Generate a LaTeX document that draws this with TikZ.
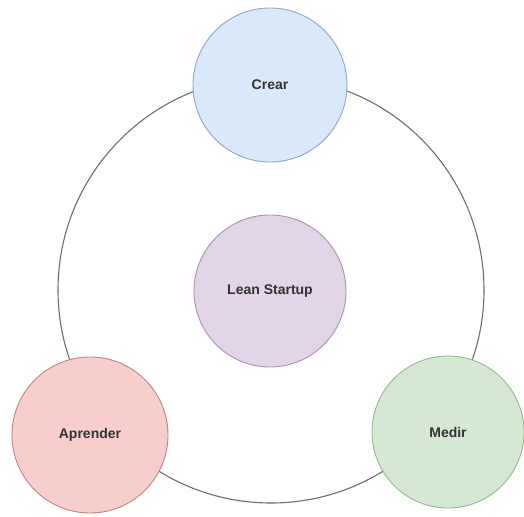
\documentclass[tikz,border=0pt]{standalone}
\usepackage{fontspec}
\setmainfont{Liberation Sans}
\definecolor{blueFill}{HTML}{DAE8FC}
\definecolor{blueLine}{HTML}{8FA6C4}
\definecolor{purpleFill}{HTML}{E1D5E7}
\definecolor{purpleLine}{HTML}{A992B4}
\definecolor{redFill}{HTML}{F8CECC}
\definecolor{redLine}{HTML}{BE8583}
\definecolor{greenFill}{HTML}{D5E8D4}
\definecolor{greenLine}{HTML}{98B88F}
\definecolor{ringLine}{HTML}{6E6E6E}
\definecolor{labelText}{HTML}{333333}
\begin{document}
\begin{tikzpicture}[x=1pt,y=-1pt,
  ring/.style={circle,draw=ringLine,line width=1.1pt,fill=white,minimum size=426pt,inner sep=0pt},
  stage/.style={circle,line width=0.9pt,inner sep=0pt,font=\fontsize{14}{16}\selectfont\bfseries,text=labelText},
  core/.style={stage,minimum size=152pt}]
  \useasboundingbox (0,0) rectangle (524,516);
  % outer cycle
  \node[ring] (cycle) at (271,290) {};
  % the three stages placed on the cycle
  \node[stage,minimum size=154pt,fill=blueFill,draw=blueLine] (crear) at (270,85) {Crear};
  \node[stage,minimum size=156pt,fill=redFill,draw=redLine] (aprender) at (90,435) {Aprender};
  \node[stage,minimum size=152pt,fill=greenFill,draw=greenLine] (medir) at (448,432) {Medir};
  % centre
  \node[core,fill=purpleFill,draw=purpleLine] (lean) at (270,291) {Lean Startup};
\end{tikzpicture}
\end{document}
